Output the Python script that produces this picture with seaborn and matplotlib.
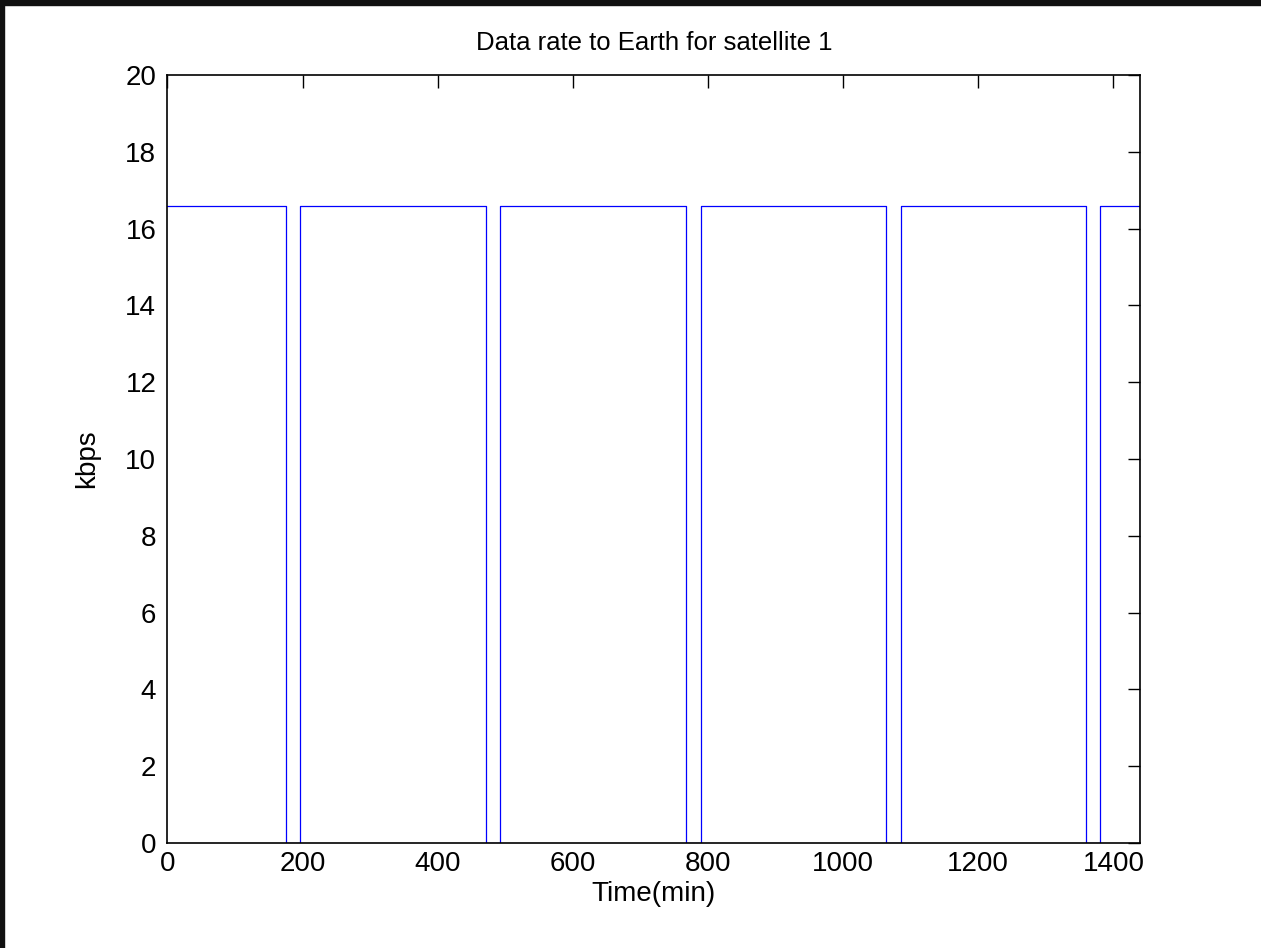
import matplotlib
matplotlib.use("Agg")
import matplotlib.pyplot as plt
from matplotlib.patches import Rectangle
import pandas as pd
import seaborn as sns

# link on/off switching times (min) and data rate (kbps)
time_min = [0, 176, 196, 471, 492, 767, 789, 1064, 1085, 1360, 1380, 1439, 1440]
rate_kbps = [16.6, 0, 16.6, 0, 16.6, 0, 16.6, 0, 16.6, 0, 16.6, 0, 0]

x_ticks = [0, 200, 400, 600, 800, 1000, 1200, 1400]
y_ticks = [0, 2, 4, 6, 8, 10, 12, 14, 16, 18, 20]

df = pd.DataFrame({"time": time_min, "rate": rate_kbps})

sns.set_style("white")
plt.rcParams["font.family"] = ["Liberation Sans", "DejaVu Sans"]
plt.rcParams["text.color"] = "black"
plt.rcParams["axes.labelcolor"] = "black"

fig = plt.figure(figsize=(12.61, 9.48), dpi=100)
ax = fig.add_axes([0.1328, 0.1108, 0.7716, 0.8101])

sns.lineplot(data=df, x="time", y="rate", ax=ax, color="#0000ff",
             linewidth=0.9, drawstyle="steps-post", estimator=None, sort=True)

ax.set_xlim(0, 1440)
ax.set_ylim(0, 20)
ax.set_xticks(x_ticks)
ax.set_yticks(y_ticks)
ax.tick_params(direction="in", length=9, width=1, top=True, right=True,
               labelsize=20, colors="black", pad=8)
ax.tick_params(axis="x", pad=6)
for s in ax.spines.values():
    s.set_visible(True)
    s.set_color("black")
    s.set_linewidth(1.2)

ax.set_title("Data rate to Earth for satellite 1", fontsize=18.5, pad=18, color="black")
ax.set_xlabel("Time(min)", fontsize=20, labelpad=3)
ax.set_ylabel("kbps", fontsize=20, labelpad=18)

# dark frame on top and left edges of the window capture
fig.patches.append(Rectangle((0, 1 - 5 / 948), 1, 5 / 948, transform=fig.transFigure,
                             color="#111111", zorder=10))
fig.patches.append(Rectangle((0, 0), 4 / 1261, 1, transform=fig.transFigure,
                             color="#111111", zorder=10))

fig.savefig("out.png", dpi=100)
plt.close(fig)
